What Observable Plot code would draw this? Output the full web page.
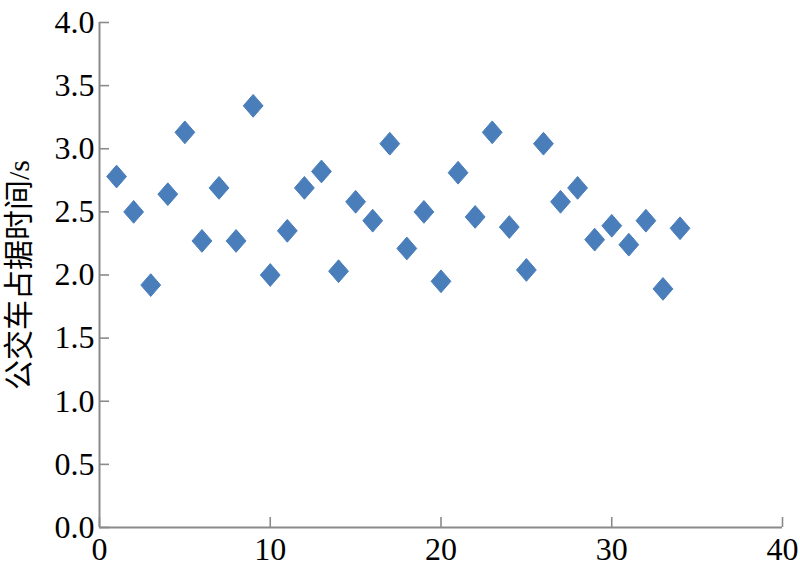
<!DOCTYPE html>
<html>
<head>
<meta charset="utf-8">
<script src="https://cdn.jsdelivr.net/npm/d3@7"></script>
<script src="https://cdn.jsdelivr.net/npm/@observablehq/plot@0.6"></script>
<style>
  html, body { margin: 0; padding: 0; background: #fff; }
</style>
</head>
<body>
<div id="chart"></div>
<script>
const busIndex = [1,2,3,4,5,6,7,8,9,10,11,12,13,14,15,16,17,18,19,20,21,22,23,24,25,26,27,28,29,30,31,32,33,34];
const occupyTime = [2.78,2.50,1.92,2.64,3.13,2.27,2.69,2.27,3.34,2.00,2.35,2.69,2.82,2.03,2.58,2.43,3.04,
                    2.21,2.50,1.95,2.81,2.46,3.13,2.38,2.04,3.04,2.58,2.69,2.28,2.39,2.24,2.43,1.89,2.37];
const xTicks = [0,10,20,30,40];
const yTicks = [0,0.5,1.0,1.5,2.0,2.5,3.0,3.5,4.0];
const yTitle = "公交车占据时间/s";

const data = busIndex.map((x, i) => ({x, y: occupyTime[i]}));

// tall diamond symbol (slightly taller than wide)
const tallDiamond = {
  draw(context, size) {
    const w = Math.sqrt(size / Math.PI) * 1.1;
    const h = w * 1.15;
    context.moveTo(0, -h);
    context.lineTo(w, 0);
    context.lineTo(0, h);
    context.lineTo(-w, 0);
    context.closePath();
  }
};

const axisColor = "#8a8a8a";

const chart = Plot.plot({
  width: 800,
  height: 568,
  marginLeft: 99,
  marginRight: 18,
  marginTop: 22,
  marginBottom: 41,
  style: {fontFamily: "'Liberation Serif', 'Noto Sans CJK SC', serif", fontSize: "30px", color: "black", background: "white"},
  x: {domain: [0, 40]},
  y: {domain: [0, 4]},
  marks: [
    Plot.axisX({ticks: xTicks, tickSize: -10, tickPadding: 20, stroke: axisColor, fill: "black", strokeWidth: 1.6, label: null}),
    Plot.axisY({ticks: yTicks, tickFormat: d => d.toFixed(1), tickSize: -10, tickPadding: 15, stroke: axisColor, fill: "black", strokeWidth: 1.6,
                label: yTitle, labelAnchor: "center", labelOffset: 92, labelArrow: "none"}),
    Plot.ruleX([0], {stroke: axisColor, strokeWidth: 2}),
    Plot.ruleY([0], {stroke: axisColor, strokeWidth: 2}),
    Plot.dot(data, {x: "x", y: "y", symbol: tallDiamond, r: 9, fill: "#4a7ebb", stroke: "#4a7ebb", strokeWidth: 1, strokeLinejoin: "round"})
  ]
});
d3.select(chart).selectAll('g[aria-label="x-axis tick label"], g[aria-label="y-axis tick label"]').attr("font-size", 32);
document.getElementById("chart").appendChild(chart);
</script>
</body>
</html>
